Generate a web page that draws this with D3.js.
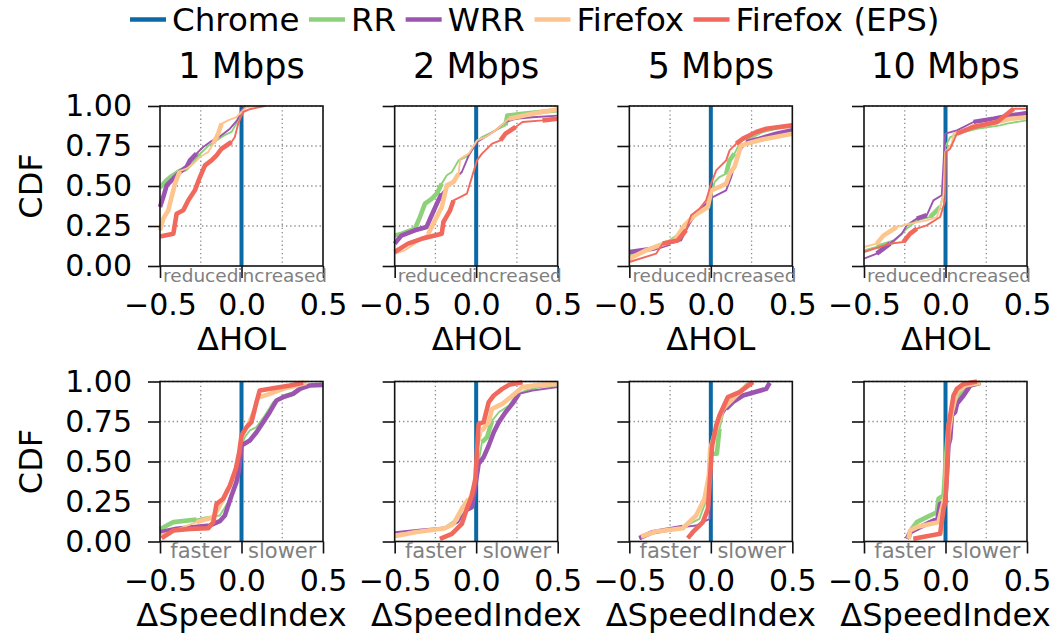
<!DOCTYPE html>
<html>
<head>
<meta charset="utf-8">
<script src="https://cdn.jsdelivr.net/npm/d3@7"></script>
<style>
  body { margin: 0; background: #fff; }
  svg { font-family: "DejaVu Sans", sans-serif; }
</style>
</head>
<body>
<svg id="chart" width="1063" height="633"></svg>
<script>
// categorias y series
var bandwidths = ["1 Mbps", "2 Mbps", "5 Mbps", "10 Mbps"];
var seriesNames = ["Chrome", "RR", "WRR", "Firefox", "Firefox (EPS)"];
var xTicks = [-0.5, 0, 0.5];
var yTicks = [0, 0.25, 0.5, 0.75, 1];

// Chrome es la referencia: delta siempre 0
var chromeCdf = [[0, 0], [0, 1]];

// puntos [delta, cdf, denso] por ancho de banda - fila ΔHOL
var holRR = [
  [[-0.5,0.49,1],[-0.46,0.535,1],[-0.43,0.56,1],[-0.38,0.594,1],[-0.34,0.608,1],[-0.30,0.65,1],[-0.255,0.70,1],[-0.20,0.754,0],[-0.16,0.78,0],[-0.10,0.82,0],[-0.06,0.838,0],[-0.027,0.90,0],[-0.006,0.952,0],[0.02,0.99,0],[0.05,1.0,0]],
  [[-0.5,0.19,1],[-0.459,0.2,1],[-0.376,0.233,1],[-0.345,0.306,1],[-0.314,0.39,1],[-0.273,0.42,1],[-0.242,0.452,1],[-0.211,0.515,1],[-0.18,0.567,0],[-0.149,0.5875,0],[-0.108,0.66,0],[-0.046,0.69,0],[0.0,0.775,0],[0.036,0.806,0],[0.098,0.8375,0],[0.18,0.879,1],[0.191,0.94,1],[0.284,0.952,1],[0.387,0.9625,1],[0.5,0.973,1]],
  [[-0.5,0.067,0],[-0.357,0.119,0],[-0.254,0.16,0],[-0.152,0.233,0],[-0.09,0.327,0],[-0.018,0.39,0],[0.023,0.525,0],[0.053,0.556,0],[0.094,0.577,1],[0.115,0.66,1],[0.145,0.702,1],[0.186,0.785,0],[0.258,0.806,0],[0.32,0.8375,0],[0.402,0.858,0],[0.5,0.879,0]],
  [[-0.5,0.098,0],[-0.422,0.119,1],[-0.32,0.15,1],[-0.238,0.233,0],[-0.176,0.285,0],[-0.094,0.306,1],[-0.033,0.369,1],[-0.012,0.452,0],[-0.002,0.744,0],[0.029,0.806,0],[0.111,0.8375,0],[0.193,0.858,0],[0.336,0.879,0],[0.377,0.89,0],[0.5,0.91,0]]
];
var holWRR = [
  [[-0.5,0.369,1],[-0.48,0.431,1],[-0.459,0.504,1],[-0.418,0.546,1],[-0.378,0.5875,1],[-0.337,0.619,1],[-0.316,0.66,1],[-0.276,0.702,1],[-0.235,0.744,0],[-0.184,0.781,0],[-0.133,0.81,0],[-0.071,0.858,0],[-0.027,0.91,0],[0.0,0.973,0],[0.031,1.0,0]],
  [[-0.5,0.14,1],[-0.459,0.19,1],[-0.376,0.223,1],[-0.304,0.244,1],[-0.273,0.317,1],[-0.232,0.41,1],[-0.211,0.452,1],[-0.17,0.504,0],[-0.088,0.5875,0],[-0.046,0.69,0],[0.005,0.775,0],[0.057,0.806,0],[0.119,0.848,0],[0.18,0.9,0],[0.242,0.92,0],[0.345,0.93,0],[0.5,0.94,0]],
  [[-0.5,0.0875,1],[-0.357,0.108,1],[-0.254,0.14,1],[-0.182,0.16,0],[-0.131,0.265,0],[-0.09,0.327,0],[-0.029,0.39,0],[0.012,0.431,0],[0.094,0.473,0],[0.125,0.556,0],[0.166,0.702,0],[0.217,0.775,1],[0.299,0.796,1],[0.402,0.827,1],[0.5,0.848,1]],
  [[-0.5,0.046,0],[-0.422,0.077,1],[-0.34,0.14,1],[-0.268,0.202,0],[-0.238,0.254,0],[-0.176,0.296,1],[-0.115,0.317,1],[-0.074,0.41,0],[-0.023,0.442,0],[-0.002,0.827,0],[0.07,0.848,0],[0.172,0.9,1],[0.295,0.92,1],[0.398,0.94,1],[0.5,0.956,1]]
];
var holFF = [
  [[-0.5,0.223,1],[-0.48,0.296,1],[-0.449,0.348,1],[-0.429,0.431,1],[-0.408,0.515,1],[-0.378,0.594,1],[-0.337,0.608,0],[-0.296,0.64,0],[-0.255,0.681,0],[-0.204,0.7125,0],[-0.173,0.765,1],[-0.143,0.827,1],[-0.122,0.89,1],[-0.082,0.91,0],[-0.031,0.93,0],[0.0,0.9625,0],[0.031,0.994,0],[0.112,1.0,0]],
  [[-0.5,0.077,0],[-0.438,0.098,0],[-0.376,0.14,0],[-0.294,0.202,1],[-0.253,0.285,1],[-0.211,0.369,1],[-0.18,0.504,1],[-0.139,0.525,1],[-0.108,0.577,1],[-0.098,0.67,0],[-0.046,0.702,0],[0.005,0.785,0],[0.057,0.806,0],[0.119,0.848,0],[0.201,0.92,1],[0.345,0.952,1],[0.5,0.98,1]],
  [[-0.5,0.046,1],[-0.398,0.098,1],[-0.316,0.129,1],[-0.223,0.16,1],[-0.162,0.254,1],[-0.1,0.317,1],[-0.018,0.369,1],[0.002,0.473,1],[0.053,0.494,1],[0.094,0.515,1],[0.115,0.577,1],[0.145,0.619,1],[0.186,0.754,1],[0.258,0.775,1],[0.34,0.796,1],[0.5,0.827,1]],
  [[-0.5,0.119,0],[-0.422,0.14,1],[-0.381,0.19,1],[-0.299,0.244,1],[-0.217,0.265,0],[-0.115,0.285,0],[-0.053,0.306,0],[-0.012,0.442,0],[-0.002,0.7125,0],[0.039,0.765,0],[0.049,0.827,0],[0.152,0.869,1],[0.275,0.89,1],[0.398,0.92,1],[0.5,0.93,1]]
];
var holEPS = [
  [[-0.5,0.185,1],[-0.418,0.202,1],[-0.398,0.327,1],[-0.357,0.348,1],[-0.327,0.41,1],[-0.286,0.473,1],[-0.255,0.556,1],[-0.224,0.629,1],[-0.184,0.66,1],[-0.153,0.692,1],[-0.122,0.733,1],[-0.061,0.775,1],[-0.041,0.806,0],[-0.02,0.89,0],[0.01,0.9625,0],[0.051,0.98,0],[0.143,1.0,0]],
  [[-0.5,0.0875,1],[-0.418,0.14,1],[-0.335,0.17,1],[-0.211,0.202,1],[-0.201,0.275,1],[-0.16,0.348,1],[-0.139,0.41,1],[-0.098,0.431,0],[-0.057,0.452,0],[-0.026,0.556,0],[0.005,0.66,0],[0.036,0.702,0],[0.098,0.765,0],[0.149,0.785,1],[0.18,0.827,1],[0.242,0.869,1],[0.284,0.9,0],[0.407,0.91,1],[0.5,0.92,1]],
  [[-0.5,0.025,0],[-0.336,0.077,0],[-0.295,0.14,1],[-0.203,0.16,1],[-0.152,0.223,1],[-0.121,0.317,0],[-0.07,0.358,0],[-0.029,0.41,0],[0.002,0.515,0],[0.033,0.598,0],[0.094,0.66,0],[0.115,0.723,0],[0.156,0.765,1],[0.197,0.796,1],[0.279,0.8375,1],[0.34,0.858,1],[0.5,0.879,1]],
  [[-0.5,0.0875,0],[-0.34,0.14,0],[-0.258,0.15,1],[-0.217,0.202,1],[-0.176,0.233,1],[-0.115,0.254,0],[-0.033,0.306,0],[-0.002,0.41,0],[0.002,0.7125,0],[0.029,0.733,0],[0.07,0.827,1],[0.172,0.869,1],[0.316,0.9,1],[0.418,0.983,1],[0.5,0.983,0]]
];

// fila ΔSpeedIndex
var siRR = [
  [[-0.5,0.075,1],[-0.459,0.1,1],[-0.418,0.121,1],[-0.276,0.1375,1],[-0.214,0.152,0],[-0.133,0.1625,0],[-0.082,0.246,0],[-0.051,0.329,0],[-0.027,0.4125,0],[-0.01,0.517,0],[0.0,0.6,0],[0.02,0.652,0],[0.051,0.694,0],[0.092,0.715,0],[0.143,0.7875,0],[0.194,0.871,0],[0.245,0.902,1],[0.316,0.923,1],[0.378,0.965,1],[0.418,0.981,0],[0.5,0.985,0]],
  [[-0.5,0.042,0],[-0.376,0.058,0],[-0.191,0.09,0],[-0.088,0.1625,0],[-0.036,0.225,0],[-0.005,0.4125,0],[0.015,0.496,0],[0.036,0.621,1],[0.067,0.652,1],[0.098,0.756,1],[0.139,0.808,0],[0.201,0.85,0],[0.242,0.9125,0],[0.304,0.944,0],[0.387,0.965,0],[0.5,0.975,0]],
  [[-0.418,0.0375,0],[-0.357,0.058,0],[-0.172,0.09,0],[-0.07,0.142,0],[-0.025,0.267,0],[-0.008,0.4125,0],[0.002,0.548,1],[0.037,0.548,1],[0.053,0.704,1],[0.094,0.871,0],[0.156,0.9125,0],[0.217,0.985,0],[0.258,0.996,0]],
  [[-0.227,0.017,1],[-0.207,0.079,1],[-0.176,0.121,1],[-0.115,0.152,1],[-0.053,0.183,1],[-0.043,0.267,1],[-0.012,0.2875,1],[0.002,0.517,1],[0.018,0.725,1],[0.039,0.808,1],[0.07,0.892,1],[0.111,0.933,1],[0.152,0.975,1],[0.213,0.992,1]]
];
var siWRR = [
  [[-0.5,0.058,1],[-0.398,0.079,1],[-0.194,0.1,1],[-0.133,0.127,1],[-0.102,0.1625,1],[-0.061,0.2875,1],[-0.031,0.371,1],[-0.014,0.454,1],[0.0,0.6,1],[0.051,0.631,1],[0.092,0.683,1],[0.133,0.746,1],[0.173,0.808,1],[0.214,0.881,1],[0.255,0.902,1],[0.316,0.923,1],[0.357,0.954,1],[0.418,0.975,1],[0.5,0.979,1]],
  [[-0.5,0.058,0],[-0.335,0.075,0],[-0.17,0.09,0],[-0.108,0.121,0],[-0.067,0.194,1],[-0.026,0.215,1],[-0.005,0.35,1],[0.015,0.485,1],[0.046,0.527,1],[0.077,0.6,1],[0.108,0.683,1],[0.139,0.746,1],[0.18,0.808,1],[0.222,0.86,1],[0.263,0.923,1],[0.345,0.944,0],[0.5,0.965,0]],
  [[-0.439,0.021,1],[-0.357,0.058,1],[-0.172,0.09,1],[-0.09,0.1,0],[-0.008,0.142,0],[-0.004,0.4125,0],[0.012,0.642,0],[0.053,0.767,0],[0.094,0.829,1],[0.135,0.871,1],[0.197,0.9125,1],[0.34,0.954,1],[0.361,0.992,1]],
  [[-0.238,0.017,1],[-0.217,0.058,1],[-0.156,0.09,1],[-0.094,0.121,1],[-0.049,0.142,1],[-0.033,0.235,1],[-0.002,0.246,1],[0.008,0.4125,1],[0.018,0.6,1],[0.029,0.642,1],[0.039,0.7875,1],[0.059,0.808,1],[0.07,0.86,1],[0.111,0.9125,1],[0.152,0.975,1],[0.213,0.992,1]]
];
var siFF = [
  [[-0.5,0.042,0],[-0.439,0.058,0],[-0.276,0.121,1],[-0.173,0.152,1],[-0.133,0.225,1],[-0.082,0.329,1],[-0.051,0.4125,0],[-0.02,0.5375,0],[0.0,0.621,0],[0.031,0.725,0],[0.071,0.819,0],[0.112,0.902,1],[0.173,0.923,1],[0.255,0.954,1],[0.337,0.975,1],[0.398,0.992,1]],
  [[-0.5,0.033,1],[-0.376,0.058,1],[-0.191,0.083,1],[-0.139,0.11,1],[-0.088,0.204,1],[-0.046,0.267,1],[-0.005,0.392,0],[0.011,0.59,0],[0.036,0.694,1],[0.077,0.746,1],[0.098,0.829,1],[0.16,0.86,1],[0.211,0.902,1],[0.284,0.965,1],[0.387,0.979,1],[0.5,0.985,1]],
  [[-0.428,0.031,1],[-0.336,0.0625,1],[-0.172,0.083,1],[-0.09,0.1625,1],[-0.039,0.267,1],[-0.012,0.4125,1],[-0.004,0.579,1],[0.033,0.704,1],[0.074,0.829,1],[0.135,0.892,1],[0.197,0.954,1],[0.258,0.996,1]],
  [[-0.227,0.017,1],[-0.217,0.069,1],[-0.176,0.09,1],[-0.094,0.11,1],[-0.043,0.121,1],[-0.023,0.204,1],[-0.002,0.2875,1],[0.008,0.517,1],[0.018,0.6625,1],[0.039,0.808,1],[0.07,0.933,1],[0.121,0.975,1],[0.213,0.992,1]]
];
var siEPS = [
  [[-0.49,0.021,1],[-0.418,0.069,1],[-0.316,0.079,1],[-0.204,0.083,1],[-0.173,0.121,1],[-0.153,0.235,1],[-0.112,0.267,1],[-0.071,0.35,1],[-0.035,0.454,1],[-0.014,0.558,1],[0.0,0.6625,1],[0.031,0.715,1],[0.061,0.746,1],[0.092,0.871,1],[0.112,0.944,1],[0.194,0.958,1],[0.296,0.975,1],[0.378,0.992,1]],
  [[-0.222,0.017,1],[-0.149,0.048,1],[-0.088,0.11,1],[-0.057,0.204,1],[-0.026,0.2875,1],[-0.005,0.392,1],[0.015,0.735,1],[0.046,0.746,1],[0.077,0.871,1],[0.108,0.9125,1],[0.16,0.954,1],[0.201,0.979,1],[0.284,0.996,1]],
  [[-0.141,0.021,1],[-0.111,0.058,1],[-0.049,0.121,1],[-0.018,0.204,1],[-0.004,0.4125,1],[0.008,0.6,1],[0.033,0.725,1],[0.053,0.7875,1],[0.104,0.902,1],[0.176,0.933,1],[0.217,0.965,1],[0.258,0.996,1]],
  [[-0.197,0.017,1],[-0.033,0.048,1],[-0.012,0.204,1],[-0.002,0.246,1],[0.008,0.4125,1],[0.018,0.725,1],[0.029,0.7875,1],[0.049,0.9125,1],[0.07,0.954,1],[0.111,0.985,1],[0.193,1.0,1]]
];

var rows = [
  { label: "\u0394HOL", left: "reduced", right: "increased", hint: 18.5, data: [holRR, holWRR, holFF, holEPS] },
  { label: "\u0394SpeedIndex", left: "faster", right: "slower", hint: 21, data: [siRR, siWRR, siFF, siEPS] }
];

// colores (Chrome, RR, WRR, Firefox, Firefox EPS)
var color = d3.scaleOrdinal().domain(seriesNames)
  .range(["#0b6aa5", "#8dd27b", "#9b55b0", "#fdc58d", "#f1695c"]);

var svg = d3.select("#chart");

// geometria de los paneles
var pw = 163, ph = 160;
var colLeft = d3.scaleLinear().domain([0, 3]).range([160, 864]);
var rowTop = [106, 381.5];

var xScale = d3.scaleLinear().domain([-0.5, 0.5]).range([0, pw]);
var yScale = d3.scaleLinear().domain([0, 1]).range([ph, 0]);

var line = d3.line()
  .x(function(d) { return xScale(d[0]); })
  .y(function(d) { return yScale(d[1]); });

var thickLine = d3.line()
  .defined(function(d) { return d[2] === 1; })
  .x(function(d) { return xScale(d[0]); })
  .y(function(d) { return yScale(d[1]); });

// leyenda
var legend = svg.append("g").attr("font-size", "32.5px");
var lx = 130;
seriesNames.forEach(function(s) {
  legend.append("line")
    .attr("x1", lx).attr("x2", lx + 36)
    .attr("y1", 19.5).attr("y2", 19.5)
    .attr("stroke", color(s)).attr("stroke-width", 4.5);
  var t = legend.append("text").attr("x", lx + 42).attr("y", 31).text(s);
  lx = lx + 42 + t.node().getComputedTextLength() + 9.5;
});

// titulos
bandwidths.forEach(function(b, c) {
  svg.append("text")
    .attr("x", colLeft(c) + pw / 2)
    .attr("y", 78)
    .attr("text-anchor", "middle")
    .attr("font-size", "35px")
    .text(b);
});

rows.forEach(function(row, r) {
  // etiqueta CDF
  svg.append("text")
    .attr("transform", "translate(42," + (rowTop[r] + ph / 2) + ") rotate(-90)")
    .attr("text-anchor", "middle")
    .attr("font-size", "32px")
    .text("CDF");

  bandwidths.forEach(function(b, c) {
    var g = svg.append("g")
      .attr("transform", "translate(" + colLeft(c) + "," + rowTop[r] + ")");

    // rejilla punteada
    [-0.25, 0, 0.25].forEach(function(v) {
      g.append("line")
        .attr("x1", xScale(v)).attr("x2", xScale(v))
        .attr("y1", 0).attr("y2", ph)
        .attr("stroke", "#8a8a8a").attr("stroke-width", 1.3)
        .attr("stroke-dasharray", "1.3,2.9");
    });
    [0.25, 0.5, 0.75, 1].forEach(function(v) {
      g.append("line")
        .attr("x1", 0).attr("x2", pw)
        .attr("y1", yScale(v)).attr("y2", yScale(v))
        .attr("stroke", "#8a8a8a").attr("stroke-width", 1.3)
        .attr("stroke-dasharray", "1.3,2.9");
    });

    // Chrome
    g.append("path")
      .attr("d", line(chromeCdf))
      .attr("fill", "none")
      .attr("stroke", color("Chrome"))
      .attr("stroke-width", 4);

    // demas series
    row.data.forEach(function(arr, k) {
      var pts = arr[c];
      var col = color(seriesNames[k + 1]);
      g.append("path")
        .attr("d", line(pts))
        .attr("fill", "none")
        .attr("stroke", col)
        .attr("stroke-width", 1.9)
        .attr("stroke-linejoin", "round");
      g.append("path")
        .attr("d", thickLine(pts))
        .attr("fill", "none")
        .attr("stroke", col)
        .attr("stroke-width", 4.6)
        .attr("stroke-linejoin", "round");
    });

    // bordes
    g.append("rect")
      .attr("width", pw).attr("height", ph)
      .attr("fill", "none")
      .attr("stroke", "#111").attr("stroke-width", 1.6);

    // ejes
    var yAxis = d3.axisLeft(yScale).tickValues(yTicks).tickSize(12).tickPadding(16)
      .tickFormat(c === 0 ? d3.format(".2f") : function() { return ""; });
    var ya = g.append("g").call(yAxis);
    ya.select(".domain").remove();
    ya.selectAll(".tick line").attr("stroke", "#111").attr("stroke-width", 1.6);
    ya.selectAll("text").attr("font-size", "30px").attr("font-family", "DejaVu Sans").attr("fill", "#000");

    var xAxis = d3.axisBottom(xScale).tickValues(xTicks).tickSize(12).tickPadding(15.7)
      .tickFormat(d3.format(".1f"));
    var xa = g.append("g").attr("transform", "translate(0," + ph + ")").call(xAxis);
    xa.select(".domain").remove();
    xa.selectAll(".tick line").attr("stroke", "#111").attr("stroke-width", 1.6);
    xa.selectAll("text").attr("font-size", "30px").attr("font-family", "DejaVu Sans").attr("fill", "#000");

    // textos de ayuda
    g.append("text")
      .attr("x", xScale(-0.25)).attr("y", ph + 16)
      .attr("text-anchor", "middle")
      .attr("font-size", row.hint + "px")
      .attr("fill", "#808080")
      .text(row.left);
    g.append("text")
      .attr("x", xScale(0.25)).attr("y", ph + 16)
      .attr("text-anchor", "middle")
      .attr("font-size", row.hint + "px")
      .attr("fill", "#808080")
      .text(row.right);

    // etiqueta eje x
    g.append("text")
      .attr("x", pw / 2).attr("y", ph + 84)
      .attr("text-anchor", "middle")
      .attr("font-size", "32px")
      .text(row.label);
  });
});
</script>
</body>
</html>
